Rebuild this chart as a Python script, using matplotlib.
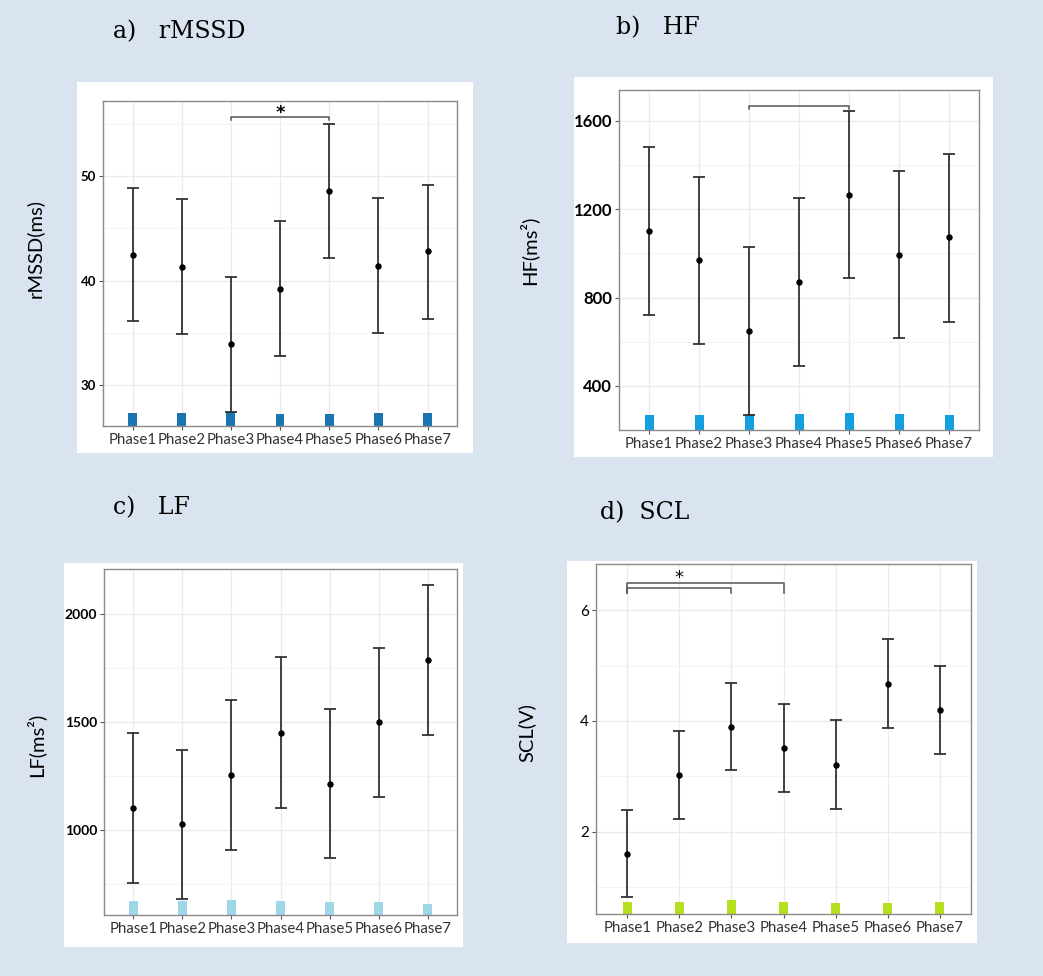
import matplotlib.pyplot as plt
from matplotlib.patches import Rectangle
import numpy as np

phases = ["Phase1", "Phase2", "Phase3", "Phase4", "Phase5", "Phase6", "Phase7"]

rmssd_mean = [42.5, 41.3, 33.9, 39.2, 48.6, 41.4, 42.8]
rmssd_upper = [48.9, 47.8, 40.4, 45.7, 55.0, 47.9, 49.2]
rmssd_lower = [36.1, 34.9, 27.4, 32.8, 42.2, 35.0, 36.3]
rmssd_bars = [27.35, 27.35, 27.45, 27.25, 27.25, 27.35, 27.35]

hf_mean = [1100, 969, 649, 869, 1265, 994, 1073]
hf_upper = [1484, 1348, 1028, 1250, 1645, 1373, 1452]
hf_lower = [721, 590, 268, 490, 887, 616, 691]
hf_bars = [268, 268, 271, 273, 278, 273, 268]

lf_mean = [1100, 1026, 1255, 1450, 1215, 1499, 1788]
lf_upper = [1450, 1371, 1603, 1799, 1562, 1845, 2134]
lf_lower = [752, 678, 907, 1103, 868, 1151, 1439]
lf_bars = [669, 672, 675, 669, 664, 664, 657]

scl_mean = [1.61, 3.03, 3.90, 3.51, 3.21, 4.67, 4.19]
scl_upper = [2.40, 3.82, 4.69, 4.30, 4.01, 5.47, 4.99]
scl_lower = [0.82, 2.23, 3.11, 2.72, 2.42, 3.88, 3.40]
scl_bars = [0.74, 0.74, 0.77, 0.74, 0.72, 0.72, 0.74]

W, H = 1043, 976
BG = "#DAE3F0"


def px_rect(x0, y0, x1, y1):
    return [x0 / W, 1 - y1 / H, (x1 - x0) / W, (y1 - y0) / H]


def draw_panel(fig, box, frame, mean, lower, upper, bars, bar_color, ylim,
               yticks, yminor, tick_size, tick_weight):
    bx = px_rect(*box)
    fig.patches.append(Rectangle((bx[0], bx[1]), bx[2], bx[3], transform=fig.transFigure,
                                 facecolor="white", edgecolor="none", zorder=-5))
    ax = fig.add_axes(px_rect(*frame))
    ax.set_zorder(2)
    x = np.arange(1, len(phases) + 1)
    mean = np.array(mean)
    yerr = [mean - np.array(lower), np.array(upper) - mean]

    ax.bar(x, bars, width=0.18, color=bar_color, zorder=2)
    ax.errorbar(x, mean, yerr=yerr, fmt="o", color="black", ms=3.6,
                ecolor="#333333", elinewidth=1.3, capsize=4.5, capthick=1.3, zorder=3)

    ax.set_xlim(0.4, 7.6)
    ax.set_ylim(*ylim)
    ax.set_xticks(x)
    ax.set_xticklabels(phases, fontsize=10.8, color="#333333", family="Lato")
    ax.set_yticks(yticks)
    ax.set_yticks(yminor, minor=True)
    ax.set_yticklabels([str(t) for t in yticks], fontsize=tick_size,
                       fontweight=tick_weight, color="black", family="Lato")
    ax.tick_params(axis="both", which="major", length=3, color="#555555", pad=2)
    ax.tick_params(axis="y", which="minor", length=0)
    ax.grid(True, which="major", color="#EBEBEB", lw=1.0, zorder=0)
    ax.grid(True, which="minor", axis="y", color="#F3F3F3", lw=0.8, zorder=0)
    ax.set_axisbelow(True)
    for s in ax.spines.values():
        s.set_color("#8a8a8a")
        s.set_linewidth(1.0)
    return ax


def bracket(ax, i, j, y, drop):
    ax.plot([i, i, j, j], [y - drop, y, y, y - drop], color="#555555", lw=1.1,
            clip_on=False, zorder=4)


fig = plt.figure(figsize=(W / 100, H / 100), dpi=100)
fig.patch.set_facecolor(BG)

ax_a = draw_panel(fig, (77, 82, 473, 453), (103, 101, 457, 426),
                  rmssd_mean, rmssd_lower, rmssd_upper, rmssd_bars, "#1B75B1",
                  (26.1, 57.2), [30, 40, 50], [35, 45, 55], 9.5, "bold")
bracket(ax_a, 3, 5, 55.65, 0.25)
ax_a.text(4, 55.15, "*", ha="center", va="bottom", fontsize=13, fontweight="bold")

ax_b = draw_panel(fig, (574, 77, 993, 457), (619, 90, 979, 430),
                  hf_mean, hf_lower, hf_upper, hf_bars, "#14A0E0",
                  (200, 1740), [400, 800, 1200, 1600], [600, 1000, 1400], 12, "bold")
bracket(ax_b, 3, 5, 1666, 12)

ax_c = draw_panel(fig, (64, 563, 463, 947), (104, 569, 457, 915),
                  lf_mean, lf_lower, lf_upper, lf_bars, "#9DD7E8",
                  (606, 2209), [1000, 1500, 2000], [750, 1250, 1750], 10, "bold")

ax_d = draw_panel(fig, (567, 561, 977, 943), (596, 564, 971, 914),
                  scl_mean, scl_lower, scl_upper, scl_bars, "#B5E01E",
                  (0.52, 6.83), [2, 4, 6], [1, 3, 5], 11, "normal")
bracket(ax_d, 1, 3, 6.40, 0.09)
bracket(ax_d, 1, 4, 6.49, 0.18)
ax_d.text(2, 6.41, "*", ha="center", va="bottom", fontsize=13)

title_font = dict(family="DejaVu Serif", fontsize=17, va="center", ha="left")
fig.text(113 / W, 1 - 32 / H, "a)   rMSSD", **title_font)
fig.text(616 / W, 1 - 28 / H, "b)   HF", **title_font)
fig.text(113 / W, 1 - 508 / H, "c)   LF", **title_font)
fig.text(600 / W, 1 - 513 / H, "d)  SCL", **title_font)

label_font = dict(family="Lato", fontsize=14.5, rotation=90, va="center", ha="center")
fig.text(35 / W, 1 - 248 / H, "rMSSD(ms)", **label_font)
fig.text(528 / W, 1 - 250 / H, "HF(ms²)", **label_font)
fig.text(35 / W, 1 - 745 / H, "LF(ms²)", **label_font)
fig.text(527 / W, 1 - 733 / H, "SCL(V)", **label_font)

fig.savefig("out.png", dpi=100, facecolor=BG)
